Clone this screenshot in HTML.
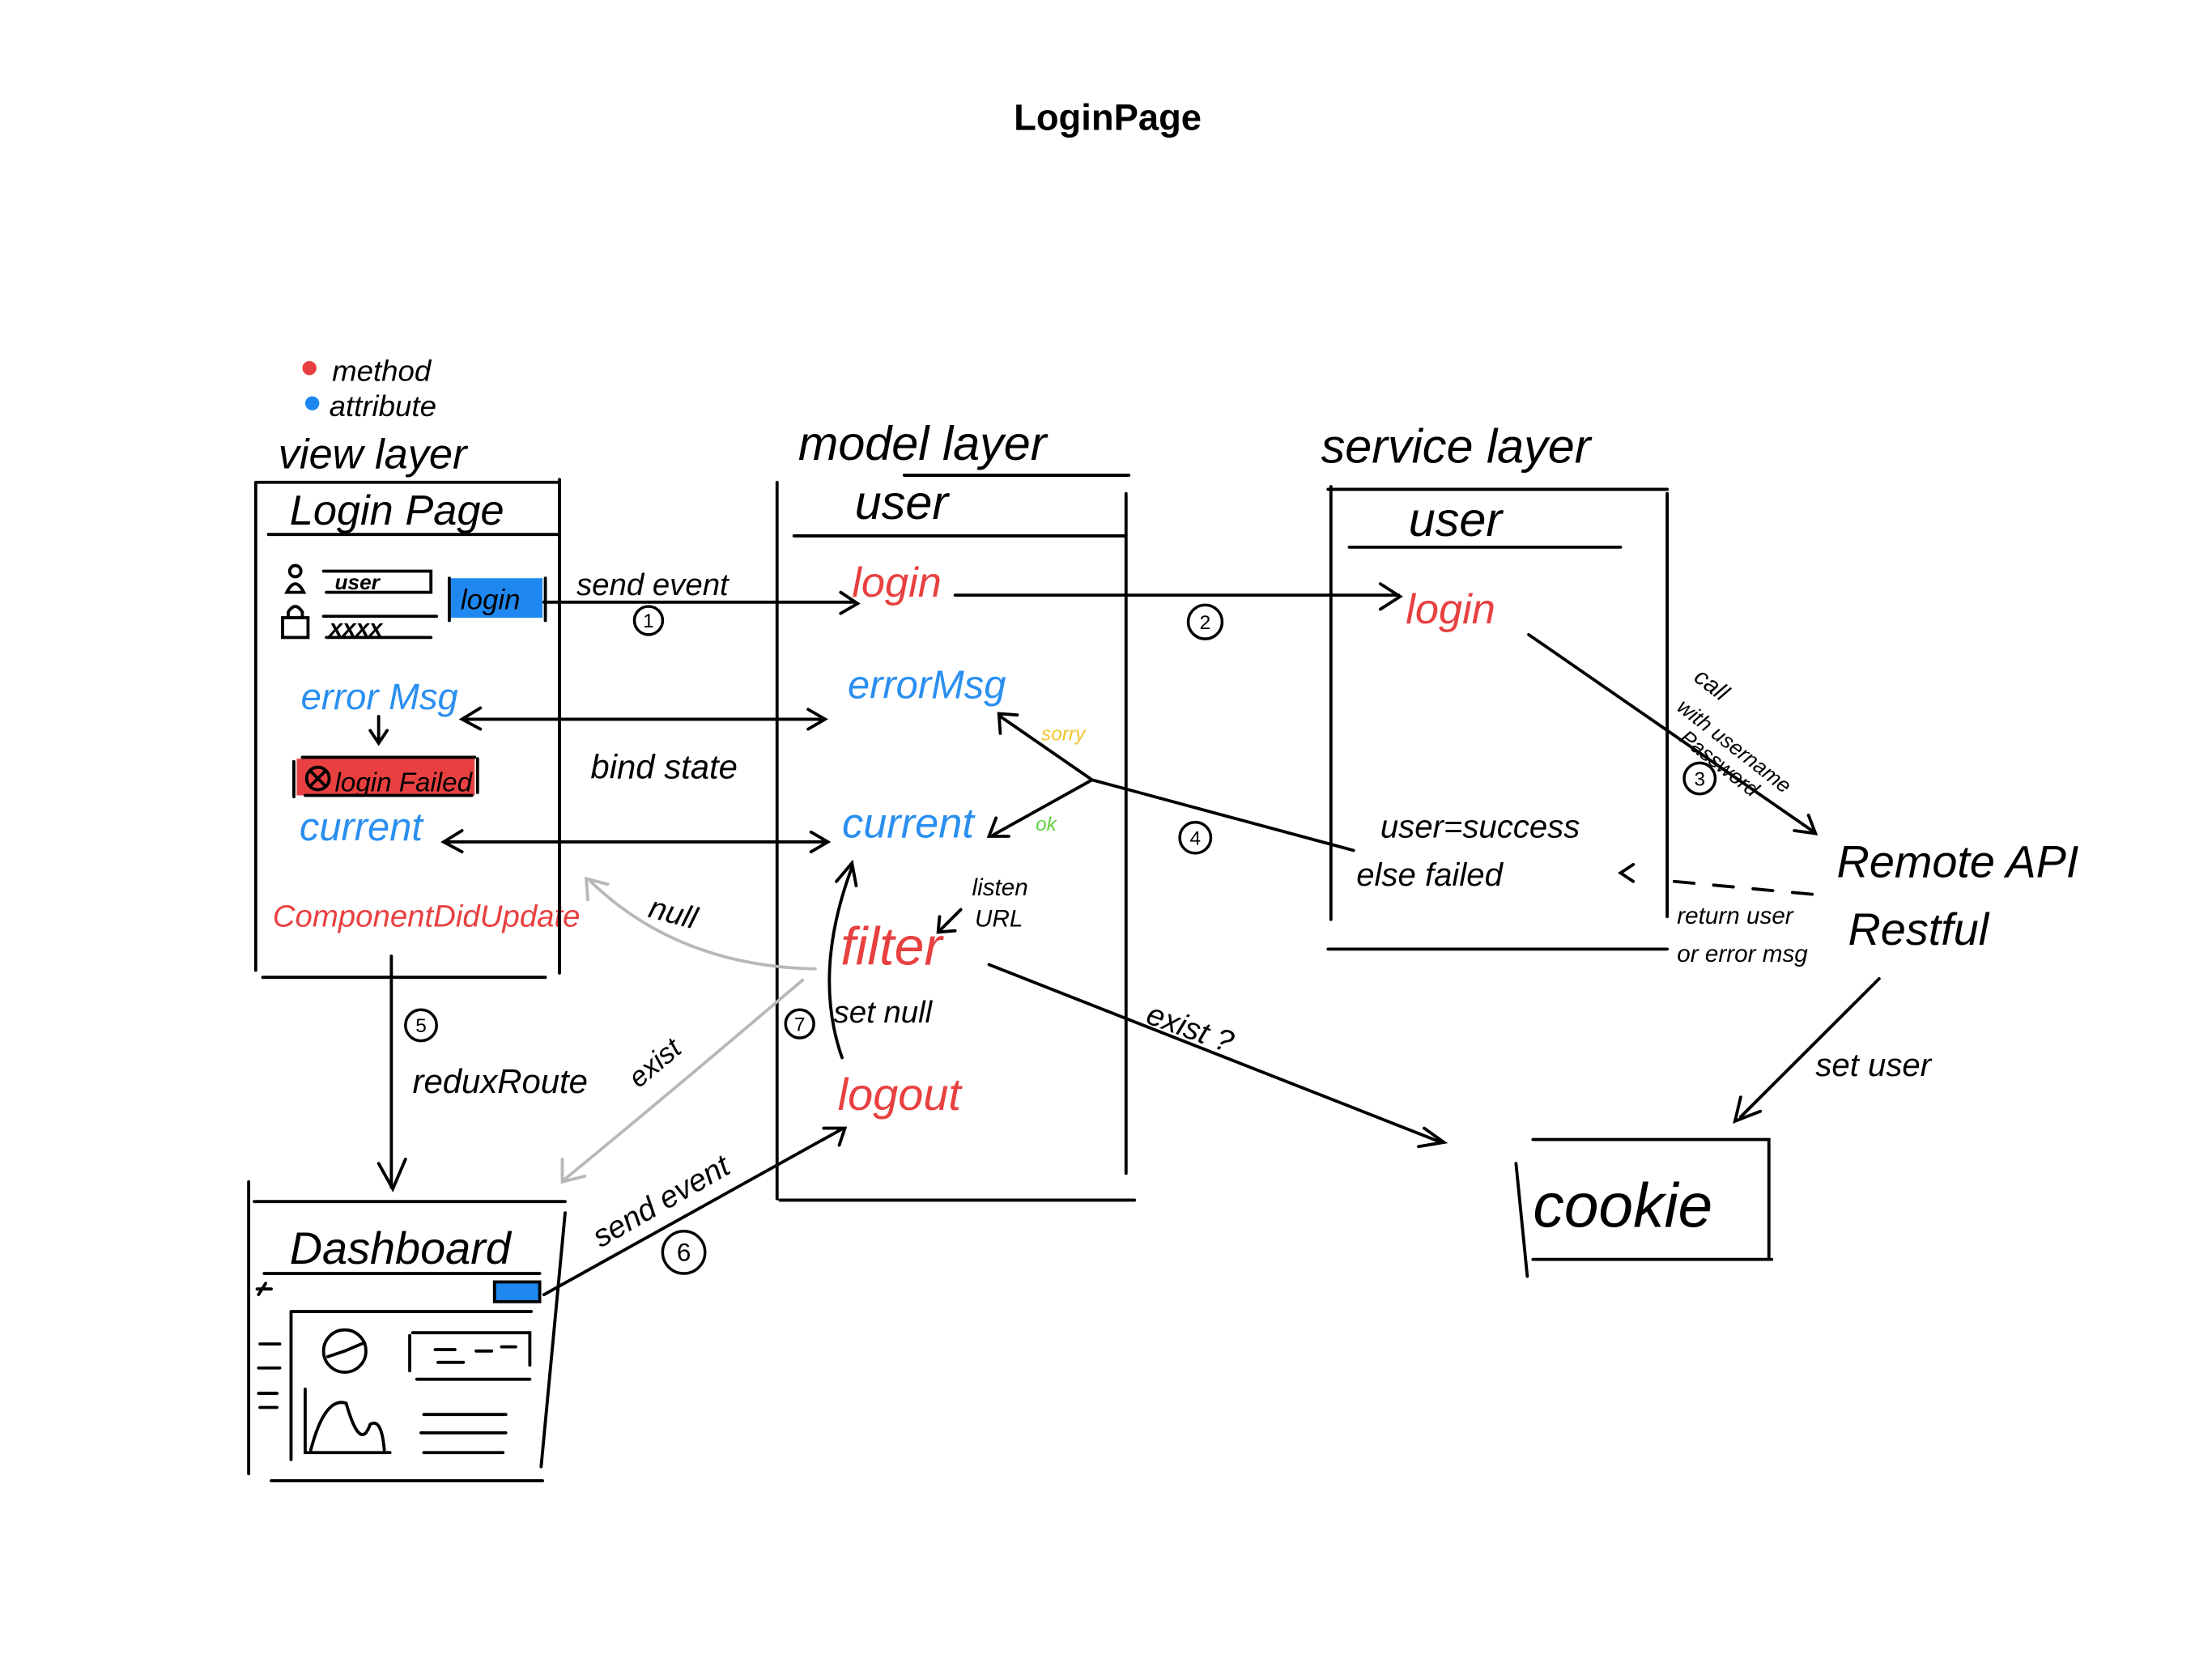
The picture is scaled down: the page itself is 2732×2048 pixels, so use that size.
<!DOCTYPE html>
<html><head><meta charset="utf-8"><style>
html,body{margin:0;padding:0;background:#fff;}
svg{display:block}
text{font-family:"Liberation Sans",sans-serif;}
</style></head><body>
<svg width="2732" height="2048" viewBox="0 0 2732 2048">
<g transform="scale(1.745,1.742)" fill="none" stroke="#000" stroke-width="2.2" stroke-linecap="round">
<text x="784" y="92" text-anchor="middle" font-size="26" font-weight="bold" fill="#000" stroke="none">LoginPage</text>
<circle cx="219" cy="261" r="5" fill="#e84040" stroke="none"/>
<circle cx="221" cy="286" r="5" fill="#1e88f0" stroke="none"/>
<g fill="#000" stroke="none" font-family="Liberation Serif" font-style="italic">
<text x="235" y="270" font-size="21">method</text>
<text x="233" y="295" font-size="21">attribute</text>
<text x="197" y="332" font-size="30">view layer</text>
<text x="205" y="372" font-size="30">Login Page</text>
<text x="565" y="326" font-size="34">model layer</text>
<text x="605" y="368" font-size="34">user</text>
<text x="935" y="328" font-size="34">service layer</text>
<text x="997" y="380" font-size="34">user</text>
<text x="408" y="422" font-size="22">send event</text>
<text x="418" y="552" font-size="24">bind state</text>
<text x="458" y="650" font-size="22" transform="rotate(15 458 650)">null</text>
<text x="590" y="725" font-size="22">set null</text>
<text x="688" y="635" font-size="17">listen</text>
<text x="690" y="657" font-size="17">URL</text>
<text x="292" y="775" font-size="24">reduxRoute</text>
<text x="452" y="772" font-size="20" transform="rotate(-40 452 772)">exist</text>
<text x="425" y="885" font-size="22" transform="rotate(-30 425 885)">send event</text>
<text x="810" y="725" font-size="22" transform="rotate(20 810 725)">exist ?</text>
<text x="977" y="594" font-size="23">user=success</text>
<text x="960" y="628" font-size="23">else  failed</text>
<text x="1198" y="482" font-size="17" transform="rotate(38 1198 482)">call</text>
<text x="1186" y="503" font-size="15" transform="rotate(38 1186 503)">with username</text>
<text x="1188" y="525" font-size="15" transform="rotate(38 1188 525)">Password</text>
<text x="1187" y="655" font-size="17">return user</text>
<text x="1187" y="682" font-size="17">or error msg</text>
<text x="1300" y="622" font-size="32">Remote API</text>
<text x="1308" y="670" font-size="32">Restful</text>
<text x="1285" y="763" font-size="23">set user</text>
<text x="1085" y="870" font-size="44">cookie</text>
<text x="205" y="896" font-size="32">Dashboard</text>
<text x="237" y="418" font-size="15" font-weight="bold">user</text>
<text x="233" y="451" font-size="17" font-weight="bold">xxxx</text>
</g>
<g stroke="none" font-family="Liberation Serif" font-style="italic">
<text x="213" y="503" font-size="26" fill="#2a8ff0">error Msg</text>
<text x="212" y="596" font-size="28" fill="#2a8ff0">current</text>
<text x="193" y="657" font-size="22" fill="#e84040">ComponentDidUpdate</text>
<text x="603" y="423" font-size="30" fill="#e84040">login</text>
<text x="600" y="495" font-size="28" fill="#2a8ff0">errorMsg</text>
<text x="596" y="594" font-size="30" fill="#2a8ff0">current</text>
<text x="595" y="684" font-size="38" fill="#e84040">filter</text>
<text x="593" y="787" font-size="32" fill="#e84040">logout</text>
<text x="995" y="442" font-size="30" fill="#e84040">login</text>
<text x="737" y="525" font-size="14" fill="#f2c52a">sorry</text>
<text x="733" y="589" font-size="14" fill="#60d040">ok</text>
</g>
<path d="M181 342 H395 M181 342 V688 M396 340 V690 M190 379 H395 M186 693 H386"/>
<rect x="318" y="410" width="66" height="28" fill="#1e88f0" stroke="none"/>
<text x="326" y="432" font-size="20" font-family="Liberation Serif" font-style="italic" fill="#000" stroke="none">login</text>
<path d="M318 410 V440 M386 410 V440 M229 405 H305 V420 H231 M229 437 H309 M231 452 H305"/>
<circle cx="209" cy="405" r="4"/><path d="M203 420 Q209 408 215 420 Z"/>
<rect x="200" y="438" width="18" height="14"/><path d="M204 438 V434 Q209 426 214 434 V438"/>
<rect x="210" y="538" width="126" height="26" fill="#e84040" stroke="none"/>
<path d="M208 540 V565 M338 538 V562 M214 537 H336 M216 564 H334"/>
<circle cx="225" cy="552" r="8"/><path d="M220 547 L230 557 M230 547 L220 557"/>
<text x="237" y="561" font-size="19" font-family="Liberation Serif" font-style="italic" fill="#000" stroke="none">login Failed</text>
<path d="M268 508 V525 M262 518 L268 527 L274 518"/>
<path d="M550 342 V850 M552 851 H803 M797 350 V832 M562 380 H797 M640 337 H799"/>
<path d="M942 345 V652 M940 347 H1180 M1180 350 V650 M955 388 H1147 M940 673 H1180"/>
<path d="M385 427 H605 M595 420 L607 428 L595 435"/>
<path d="M676 422 H990 M977 414 L991 423 L977 432"/>
<path d="M327 510 H583 M340 502 L327 510 L340 517 M572 503 L584 510 L572 517"/>
<path d="M314 597 H585 M327 589 L314 597 L327 604 M574 590 L586 597 L574 604"/>
<path d="M1082 450 L1284 590 M1270 589 L1285 591 L1280 578"/>
<path d="M1185 625 L1292 635" stroke-dasharray="14 14"/>
<path d="M1156 613 L1147 619 L1156 625"/>
<path d="M958 603 L773 553 L708 508 M708 520 L707 506 L720 507 M773 553 L703 592 M705 580 L700 593 L714 593"/>
<path d="M277 678 V842 M268 825 L278 843 L287 822"/>
<path d="M385 918 L597 800 M583 800 L598 800 L594 812"/>
<path d="M700 684 L1020 810 M1008 800 L1022 810 L1004 813"/>
<path d="M1330 694 L1232 792 M1232 778 L1228 795 L1246 788"/>
<path d="M596 750 Q575 690 603 615 M592 625 L603 612 L606 628"/>
<path d="M680 645 L665 660 M665 650 L664 661 L676 660"/>
<path d="M577 687 Q480 685 418 625 M416 638 L415 623 L430 627" stroke="#b8b8b8"/>
<path d="M568 695 Q480 770 400 836 M398 822 L398 838 L414 834" stroke="#b8b8b8"/>
<path d="M1085 808 H1252 V893 M1073 825 L1081 905 M1085 893 H1254"/>
<path d="M176 838 V1045 M180 852 H400 M400 860 L383 1040 M192 1050 H384 M187 903 H382 M206 930 H376 M206 930 V1035 M216 985 V1030 H276"/>
<rect x="350" y="909" width="32" height="14" fill="#1e88f0"/>
<circle cx="244" cy="958" r="15"/><path d="M244 958 L258 952 M232 962 L244 958"/>
<path d="M290 947 V972 M292 945 H375 V968 M295 978 H375 M308 957 H322 M337 958 H348 M355 955 H365 M310 966 H328 M300 1003 H358 M298 1016 H358 M300 1030 H356 M220 1028 Q230 990 245 995 Q255 1030 262 1010 Q270 1005 272 1028 M184 953 H198 M183 970 H198 M183 988 H196 M184 998 H196"/>
<path d="M188 910 L183 918 M182 914 H192" />
<g stroke-width="2">
<circle cx="459" cy="440" r="10"/><circle cx="853" cy="441" r="12"/><circle cx="1203" cy="552" r="11"/>
<circle cx="846" cy="594" r="11"/><circle cx="298" cy="727" r="11"/><circle cx="484" cy="888" r="15"/><circle cx="566" cy="726" r="10"/>
</g>
<g fill="#000" stroke="none" font-size="14" text-anchor="middle">
<text x="459" y="445">1</text><text x="853" y="446">2</text><text x="1203" y="557">3</text><text x="846" y="599">4</text>
<text x="298" y="732">5</text><text x="484" y="894" font-size="18">6</text><text x="566" y="731">7</text>
</g>
</g>
</svg>
</body></html>
